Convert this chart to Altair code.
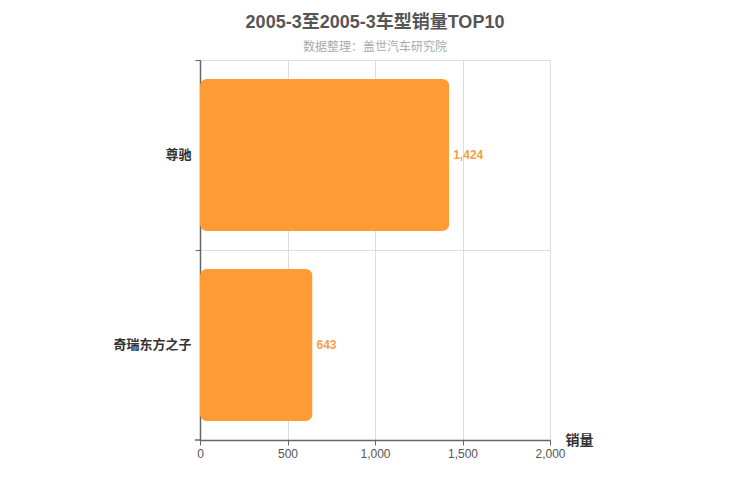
import altair as alt
import pandas as pd

models = ["尊驰", "奇瑞东方之子"]
sales = [1424, 643]
x_ticks = [0, 500, 1000, 1500, 2000]

df = pd.DataFrame({"model": models, "sales": sales})

W, H = 350, 380
FONT = "Liberation Sans, Noto Sans CJK SC, sans-serif"

y_enc = alt.Y(
    "model:N",
    sort=models,
    scale=alt.Scale(paddingInner=0, paddingOuter=0),
    axis=alt.Axis(
        title=None,
        bandPosition=0,
        grid=True,
        labelFontWeight="bold",
        labelFontSize=13,
        labelColor="#333333",
        labelPadding=4,
        tickSize=5,
        tickColor="#666666",
        domainColor="#666666",
        domainWidth=1.5,
        gridColor="#dddddd",
        labelFont=FONT,
    ),
)

x_enc = alt.X(
    "sales:Q",
    scale=alt.Scale(domain=[0, 2000], nice=False),
    axis=alt.Axis(
        values=x_ticks,
        format=",d",
        labelFlush=False,
        title="销量",
        titleX=W + 15,
        titleY=0,
        titleAlign="left",
        titleBaseline="middle",
        titleFontSize=14,
        titleFontWeight="bold",
        titleColor="#333333",
        titleFont=FONT,
        labelFontSize=12,
        labelColor="#555555",
        labelFont=FONT,
        labelPadding=3,
        tickSize=5,
        tickColor="#666666",
        domainColor="#666666",
        domainWidth=1.5,
        gridColor="#dddddd",
    ),
)

bars = alt.Chart(df).mark_bar(
    color="#ff9b35", cornerRadius=7, height=alt.RelativeBandSize(0.8)
).encode(x=x_enc, y=y_enc)

labels = alt.Chart(df).mark_text(
    align="left", baseline="middle", dx=4, color="#f5a040",
    fontWeight="bold", fontSize=12, font=FONT
).encode(x="sales:Q", y=alt.Y("model:N", sort=models), text=alt.Text("sales:Q", format=",d"))

bottom_tick = alt.Chart(df).mark_rule(color="#666666").encode(
    x=alt.value(-5), x2=alt.value(0), y=alt.value(H)
)

chart = alt.layer(bars, labels, bottom_tick).properties(
    width=W,
    height=H,
    autosize=alt.AutoSizeParams(type="none"),
    padding={"left": 192, "top": 52, "right": 192, "bottom": 52},
    title=alt.TitleParams(
        text="2005-3至2005-3车型销量TOP10",
        subtitle="数据整理：盖世汽车研究院",
        font=FONT,
        fontSize=18,
        fontWeight="bold",
        color="#555555",
        subtitleFont=FONT,
        subtitleFontSize=12,
        subtitleColor="#aaaaaa",
        subtitlePadding=10,
        anchor="middle",
        offset=7,
    ),
).configure_view(stroke="#dddddd").configure(background="white")

chart.save("out.html", embed_options={"renderer": "svg", "actions": False})
